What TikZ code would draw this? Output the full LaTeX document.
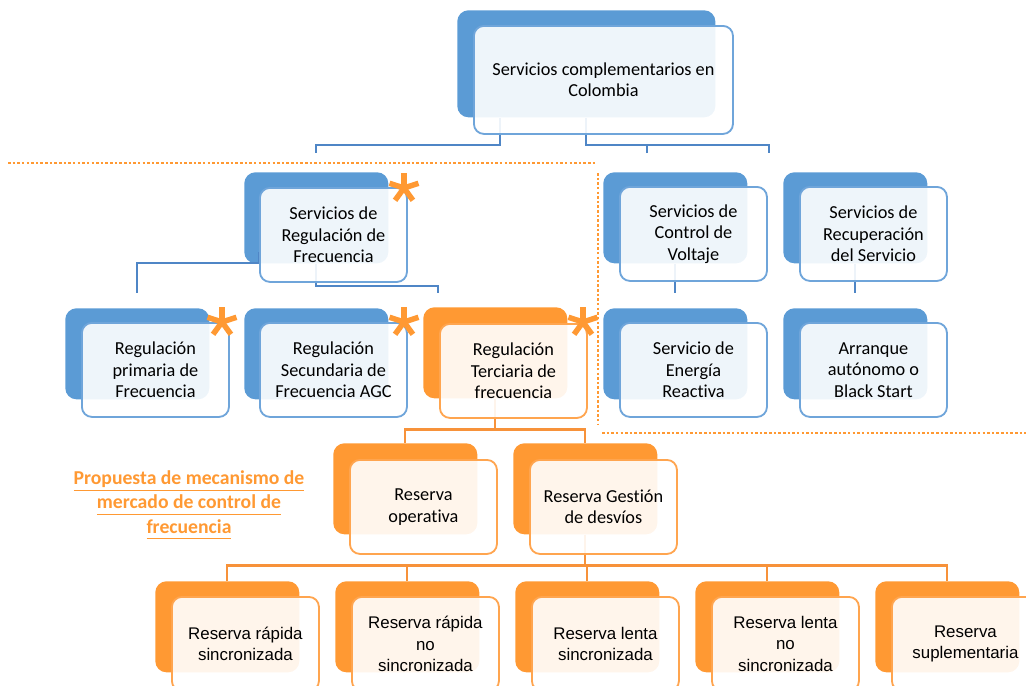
\documentclass[tikz,border=0pt]{standalone}
\usepackage{fontspec}
\setmainfont{Carlito}[Ligatures=NoCommon]
\newfontfamily\estrechafont{Liberation Sans}
\newcommand{\subrayado}[1]{\underline{#1\vphantom{p}}}
\definecolor{azul}{HTML}{5B9BD5}
\definecolor{azulborde}{HTML}{6FA5DA}
\definecolor{azullinea}{HTML}{4F86C6}
\definecolor{naranja}{HTML}{FF9933}
\definecolor{naranjaborde}{HTML}{FFA54F}
\definecolor{naranjalinea}{HTML}{F7923A}
\tikzset{
  fondoazul/.style={fill=azul,rounded corners=0.28cm,minimum width=3.6cm,minimum height=2.275cm,anchor=north west,inner sep=0pt},
  fondonaranja/.style={fondoazul,fill=naranja},
  cajaazul/.style={fill=white,fill opacity=0.9,text opacity=1,draw=azulborde,line width=1.3pt,rounded corners=0.25cm,minimum width=3.675cm,minimum height=2.35cm,anchor=north west,align=center,inner sep=2pt,font=\fontsize{13}{15.2}\selectfont},
  cajanaranja/.style={cajaazul,draw=naranjaborde},
  cajafinal/.style={cajanaranja,font=\estrechafont\fontsize{12}{15.2}\selectfont},
  lineaazul/.style={draw=azullinea,line width=1.4pt},
  lineanaranja/.style={draw=naranjalinea,line width=1.6pt},
  punteada/.style={draw=naranja,line width=1.8pt,dash pattern=on 1.8pt off 1.5pt},
  asterisco/.style={draw=naranja,line width=3.9pt}
}
\begin{document}
\begin{tikzpicture}[x=0.025cm,y=-0.025cm]
\useasboundingbox (0,0) rectangle (1026,685);
\clip (0,0) rectangle (1026,685);

\draw[punteada] (8,163) -- (597,163);
\draw[punteada] (598,173) -- (598,425);
\draw[punteada] (602,433) -- (1030,433);

\node[fondoazul,minimum width=6.45cm,minimum height=2.675cm] (fsc) at (457,10) {};
\node[fondoazul] (fsrf) at (244,172) {};
\node[fondoazul] (fscv) at (603,172) {};
\node[fondoazul] (fsrs) at (783,172) {};
\node[fondoazul] (frp) at (65,308) {};
\node[fondoazul] (frs) at (244,308) {};
\node[fondonaranja] (frt) at (423,307) {};
\node[fondoazul] (fser) at (603,308) {};
\node[fondoazul] (fbs) at (783,308) {};
\node[fondonaranja] (fro) at (333,443) {};
\node[fondonaranja] (frg) at (513,443) {};
\foreach \i in {1,...,5}\node[fondonaranja] (fr\i) at ({155+180*(\i-1)},581) {};

\coordinate (d2) at (647,153);
\coordinate (d3) at (769,153);
\coordinate (d4) at (438,293);
\draw[lineaazul] ([xshift=-2.15cm]fsc.south) -- ++(0,27) -| ([yshift=0.475cm]fsrf.north);
\draw[lineaazul] (fsc.south) -- ++(0,27) -| (d3);
\draw[lineaazul] (d2) -- ++(0,-9);
\draw[lineaazul] ([xshift=0.375cm,yshift=0.3cm]fsrf.south west) -- ++(0,11) -| ([yshift=0.375cm]frp.north);
\draw[lineaazul] (fsrf.south) -- ++(0,22) -| (d4);
\draw[lineaazul] (fscv.south) -- ([yshift=0.375cm]fser.north);
\draw[lineaazul] (fsrs.south) -- ([yshift=0.375cm]fbs.north);
\draw[lineanaranja] (frt.south) -- ++(0,31) coordinate (m1);
\draw[lineanaranja] (fro.north) |- (m1) -| (frg.north);
\draw[lineanaranja] (frg.south) -- ++(0,31) coordinate (m2);
\draw[lineanaranja] (fr1.north) |- (m2) -| (fr5.north);
\foreach \i in {2,3,4}\draw[lineanaranja] (fr\i.north) -- (fr\i.north |- m2);

\node[cajaazul,minimum width=6.475cm,minimum height=2.7cm] (sc) at (473,25) {Servicios complementarios en\\Colombia};
\node[cajaazul] (srf) at (259,187) {Servicios de\\Regulación de\\Frecuencia};
\node[cajaazul] (scv) at (619,186) {Servicios de\\Control de\\Voltaje};
\node[cajaazul] (srs) at (799,186) {Servicios de\\Recuperación\\del Servicio};
\node[cajaazul] (rp) at (81,322) {Regulación\\primaria de\\Frecuencia};
\node[cajaazul] (rs) at (259,322) {Regulación\\Secundaria de\\Frecuencia AGC};
\node[cajanaranja] (rt) at (439,323) {Regulación\\Terciaria de\\frecuencia};
\node[cajaazul] (ser) at (619,322) {Servicio de\\Energía\\Reactiva};
\node[cajaazul] (bs) at (799,322) {Arranque\\autónomo o\\Black Start};
\node[cajanaranja] (ro) at (349,459) {Reserva\\operativa};
\node[cajanaranja] (rg) at (529,459) {Reserva Gestión\\de desvíos};
\foreach \i/\t in {1/{Reserva rápida\\sincronizada},2/{Reserva rápida\\no\\sincronizada},3/{Reserva lenta\\sincronizada},4/{Reserva lenta\\no\\sincronizada},5/{Reserva\\suplementaria}}
  \node[cajafinal] (r\i) at ({171+180*(\i-1)},596) {\t};

\node[align=center,text=naranja,font=\bfseries\fontsize{14}{17.2}\selectfont] (prop) at (189,505) {\subrayado{Propuesta de mecanismo de}\\\subrayado{mercado de control de}\\\subrayado{frecuencia}};

\foreach \p in {(404,188),(222,322),(404,322),(583,322)}
  \foreach \a in {90,162,234,306,18}\draw[asterisco] \p -- ++(\a:0.38cm);
\end{tikzpicture}
\end{document}
